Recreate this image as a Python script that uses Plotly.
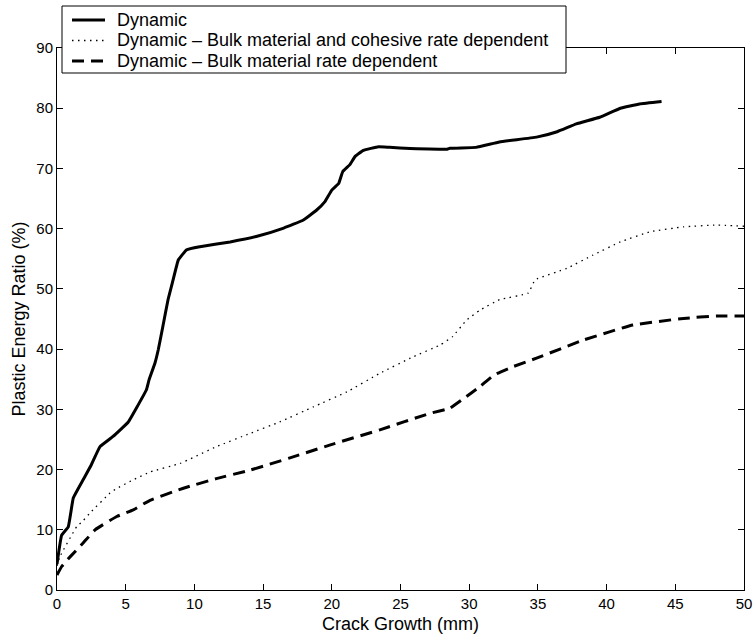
import plotly.graph_objects as go

# Crack growth (mm) vs. plastic energy ratio (%) for three dynamic simulations
dyn_x = [0.0, 0.34, 0.82, 1.19, 1.9, 2.5, 3.13, 4.08, 5.19, 5.9, 6.5, 6.7, 7.13, 7.37,
         7.7, 8.08, 8.45, 8.83, 9.44, 10.4, 12.6, 14.5, 16.5, 17.9, 18.9, 19.5, 20.0,
         20.5, 20.8, 21.3, 21.7, 22.3, 23.4, 24.2, 25.7, 28.4, 28.6, 30.5, 32.2, 34.9,
         36.4, 37.8, 39.5, 41.0, 42.4, 44.0]
dyn_y = [4.3, 9.1, 10.5, 15.3, 18.3, 20.8, 23.8, 25.5, 27.9, 30.7, 33.2, 34.9, 37.7, 39.9,
         43.7, 48.2, 51.5, 54.8, 56.5, 57.0, 57.8, 58.7, 60.1, 61.4, 63.1, 64.5, 66.4,
         67.5, 69.5, 70.6, 72.0, 73.0, 73.6, 73.5, 73.3, 73.2, 73.35, 73.5, 74.4, 75.2,
         76.1, 77.4, 78.5, 80.0, 80.7, 81.1]

coh_x = [0.0, 0.2, 1.43, 1.9, 2.4, 3.86, 4.3, 5.55, 6.77, 8.95, 11.6, 14.05, 16.2, 18.65,
         21.1, 23.5, 25.9, 27.9, 28.8, 29.8, 30.8, 32.2, 34.3, 34.8, 37.1, 39.0, 41.0,
         43.2, 45.6, 48.0, 50.0]
coh_y = [4.0, 5.5, 10.5, 11.5, 12.8, 16.1, 16.8, 18.3, 19.6, 21.0, 23.8, 26.0, 27.9, 30.4,
         32.9, 36.0, 38.7, 40.7, 42.1, 44.8, 46.5, 48.2, 49.3, 51.5, 53.4, 55.6, 57.8,
         59.5, 60.3, 60.6, 60.4]

bulk_x = [0.0, 0.34, 0.95, 1.9, 2.77, 4.35, 5.55, 6.77, 9.2, 11.6, 14.05, 16.9, 19.9,
          23.5, 27.1, 28.6, 29.6, 30.8, 31.8, 33.2, 34.9, 38.3, 41.9, 45.6, 48.0, 50.0]
bulk_y = [2.5, 3.9, 5.5, 7.8, 10.0, 12.2, 13.3, 14.9, 16.9, 18.5, 19.9, 21.9, 24.1,
          26.6, 29.3, 30.2, 31.8, 33.8, 35.7, 37.1, 38.5, 41.5, 44.0, 45.1, 45.5, 45.5]

series_names = [
    "Dynamic",
    "Dynamic \u2013 Bulk material and cohesive rate dependent",
    "Dynamic \u2013 Bulk material rate dependent",
]

x_ticks = [0, 5, 10, 15, 20, 25, 30, 35, 40, 45, 50]
y_ticks = [0, 10, 20, 30, 40, 50, 60, 70, 80, 90]

FONT = "Liberation Sans, Arial, Helvetica, sans-serif"
W, H = 755, 636
ML, MR, MT, MB = 57, 11, 48, 46

line_styles = [
    dict(color="black", width=3),
    dict(color="black", width=1.3, dash="1.5px,4.5px"),
    dict(color="black", width=3, dash="12px,7px"),
]

fig = go.Figure()
for xs, ys, name, style in zip([dyn_x, coh_x, bulk_x], [dyn_y, coh_y, bulk_y],
                               series_names, line_styles):
    fig.add_trace(go.Scatter(
        x=xs, y=ys, mode="lines", name=name, showlegend=False,
        line=dict(shape="spline", smoothing=0.3, **style),
    ))

axis_common = dict(
    showline=True, linecolor="black", linewidth=1, mirror="ticks",
    ticks="inside", ticklen=6, tickwidth=1, tickcolor="black",
    showgrid=False, zeroline=False, automargin=False,
    tickfont=dict(family=FONT, size=15, color="black"),
)

fig.update_xaxes(
    range=[0, 50], tickvals=x_ticks, ticktext=[str(v) for v in x_ticks],
    title=dict(text="Crack Growth (mm)", font=dict(family=FONT, size=18, color="black"),
               standoff=6),
    **axis_common,
)
fig.update_yaxes(
    range=[0, 90], tickvals=y_ticks, ticktext=[str(v) for v in y_ticks],
    title=dict(text="Plastic Energy Ratio (%)", font=dict(family=FONT, size=18, color="black"),
               standoff=6),
    **axis_common,
)


# Boxed legend in the upper-left corner, overlapping the top axis line
def px_to_paper(px, py):
    return (px - ML) / (W - ML - MR), (H - MB - py) / (H - MT - MB)


bx0, by0 = px_to_paper(62, 6)
bx1, by1 = px_to_paper(566, 73)
shapes = [dict(type="rect", xref="paper", yref="paper", x0=bx0, y0=by1, x1=bx1, y1=by0,
               line=dict(color="black", width=1), fillcolor="white", layer="above")]
annotations = []
for i, (name, style) in enumerate(zip(series_names, line_styles)):
    row_y = 20 + i * 20.5
    sx0, sy = px_to_paper(72, row_y)
    sx1, _ = px_to_paper(105, row_y)
    tx, _ = px_to_paper(115, row_y)
    shapes.append(dict(type="line", xref="paper", yref="paper", x0=sx0, y0=sy, x1=sx1, y1=sy,
                       line=dict(color=style["color"], width=style["width"],
                                 dash=style.get("dash", "solid")),
                       layer="above"))
    annotations.append(dict(text=name, xref="paper", yref="paper", x=tx, y=sy,
                            xanchor="left", yanchor="middle", showarrow=False,
                            font=dict(family=FONT, size=18, color="black")))

fig.update_layout(
    width=W, height=H,
    margin=dict(l=ML, r=MR, t=MT, b=MB, autoexpand=False),
    paper_bgcolor="white", plot_bgcolor="white",
    showlegend=False,
    shapes=shapes, annotations=annotations,
)

fig.write_html("out.html")
